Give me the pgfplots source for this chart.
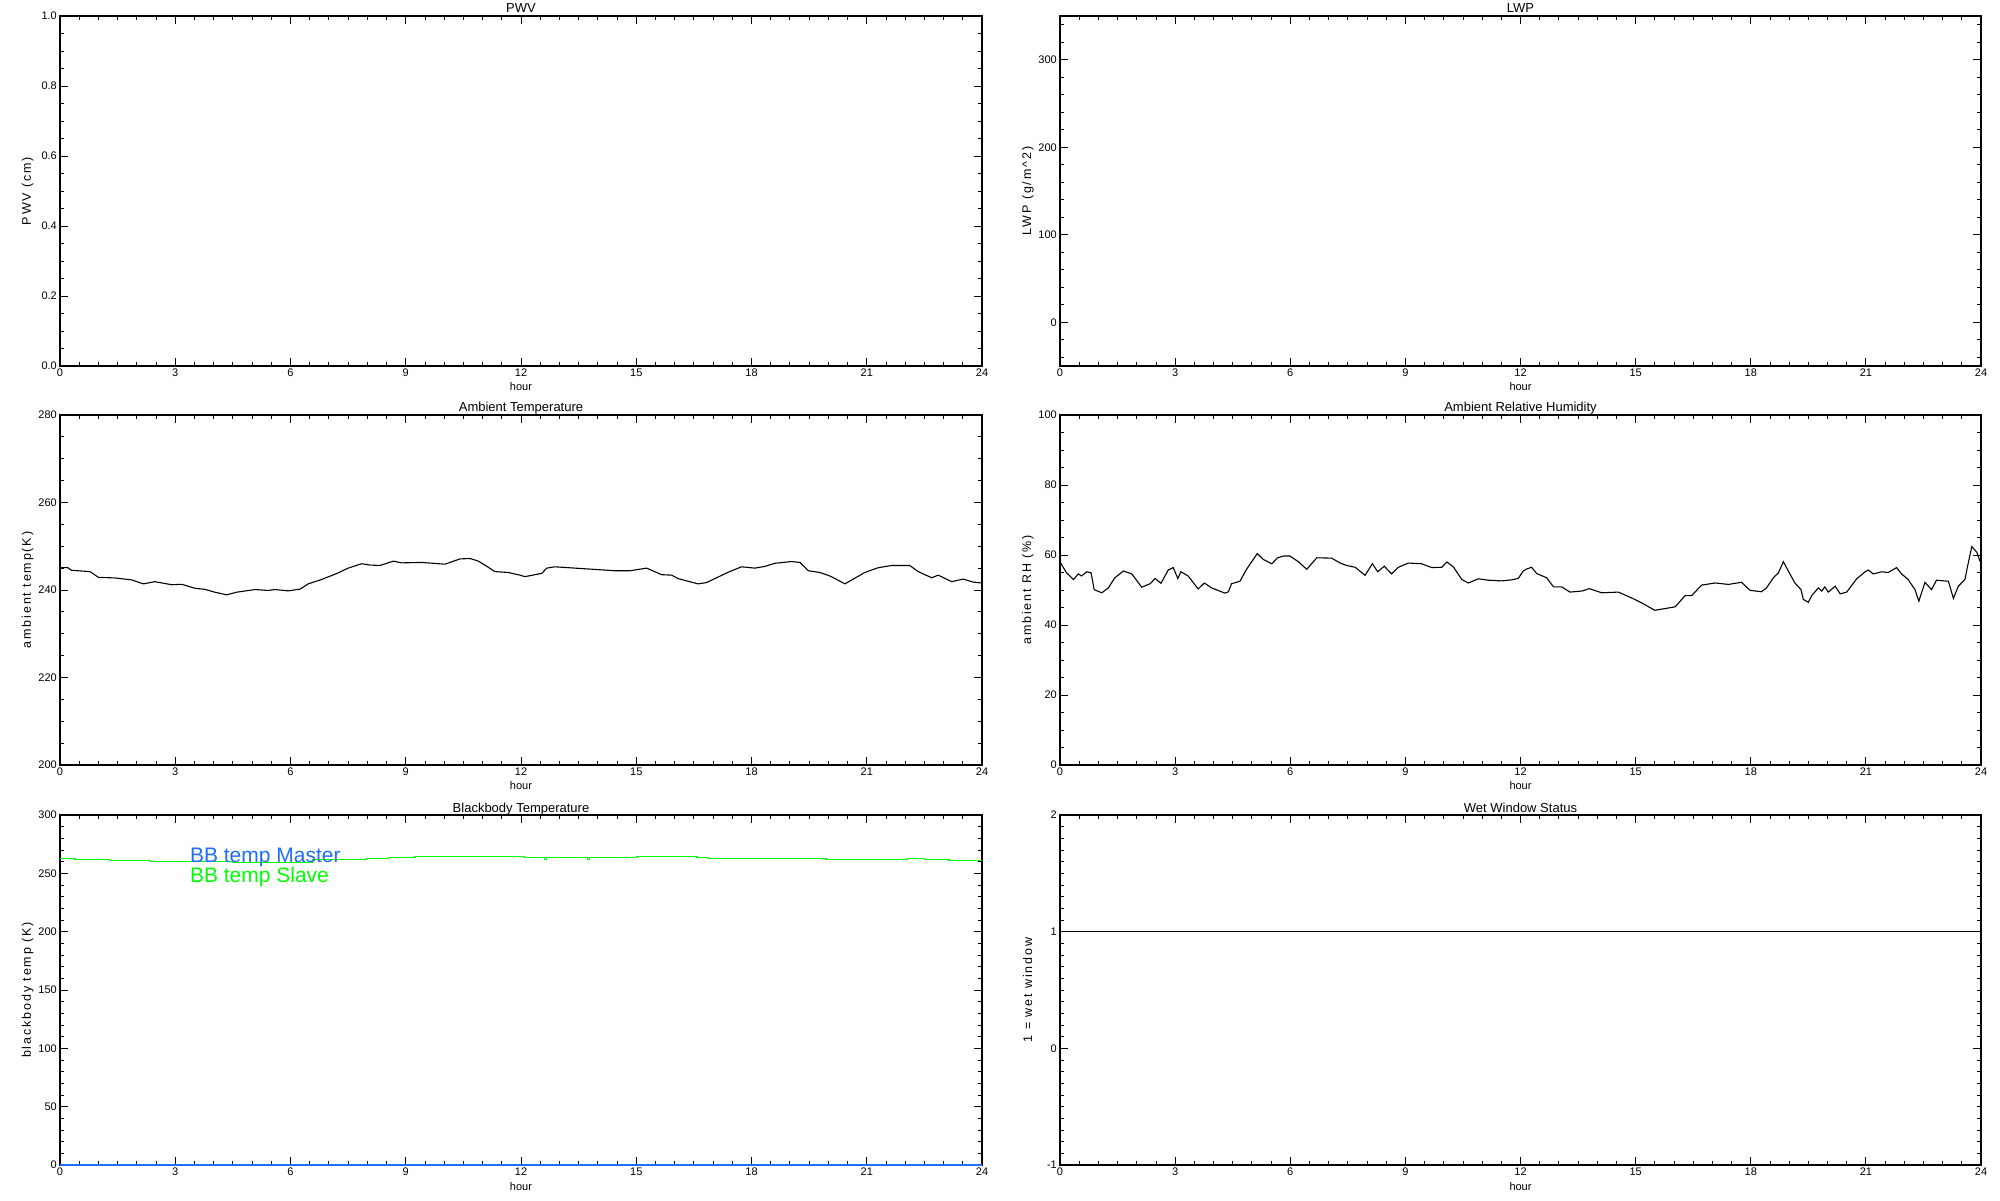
\documentclass[border=0pt]{standalone}
\usepackage{pgfplots}
\pgfplotsset{compat=1.18}
\usepackage{fontspec}
\setmainfont{Liberation Sans}
\newfontfamily\labfont[LetterSpace=15]{Liberation Sans}
\definecolor{masterblue}{RGB}{30,110,255}
\definecolor{slavegreen}{RGB}{0,255,0}

\pgfplotsset{
 every axis title shift/.style={},
 idl/.style={
  scale only axis, width=922pt, height=350pt, anchor=south west,
  clip mode=individual,
  xmin=0, xmax=24, xtick={0,3,...,24}, minor xtick={0,0.5,...,24},
  tick align=inside, xtick pos=both, ytick pos=both,
  major tick length=8pt, minor tick length=4pt,
  axis line style={line width=1.1pt},
  every tick/.style={black, line width=0.9pt},
  tick label style={font=\fontsize{11}{13}\selectfont},
  /pgf/number format/assume math mode=true,
  xticklabel style={anchor=north, inner sep=0pt, yshift=-3pt},
  yticklabel style={anchor=east, inner sep=0pt, xshift=-3pt},
  xlabel={hour},
  xlabel style={at={(axis description cs:0.5,0)}, anchor=base, yshift=-25pt, font=\fontsize{11}{13}\selectfont},
  ylabel style={at={(axis description cs:-0.035,0.5)}, anchor=center, font=\labfont\fontsize{12.5}{15}\selectfont},
  title style={at={(axis description cs:0.5,1)}, anchor=base, yshift=-3pt, font=\fontsize{13}{15}\selectfont},
  every axis plot/.append style={line width=1.1pt},
 }
}

\pgfplotstableread{
h T
0.00 245.1
0.20 245.1
0.30 244.5
0.78 244.2
1.00 242.9
1.43 242.75
1.87 242.3
2.17 241.4
2.47 241.9
2.91 241.2
3.17 241.3
3.51 240.4
3.77 240.15
4.03 239.5
4.34 238.9
4.60 239.5
5.08 240.1
5.42 239.9
5.60 240.1
5.94 239.8
6.25 240.2
6.46 241.4
6.81 242.4
7.24 243.9
7.50 245.0
7.85 246.0
8.07 245.7
8.33 245.6
8.68 246.6
8.89 246.2
9.41 246.3
10.02 245.9
10.41 247.1
10.67 247.2
10.89 246.6
11.15 245.2
11.32 244.2
11.67 244.0
11.97 243.4
12.10 243.05
12.54 243.8
12.67 245.0
12.88 245.3
13.58 244.9
14.45 244.4
14.84 244.4
15.27 245.0
15.66 243.5
15.92 243.4
16.09 242.6
16.61 241.4
16.83 241.7
17.39 244.05
17.74 245.3
18.09 245.0
18.35 245.4
18.61 246.1
19.04 246.5
19.26 246.3
19.48 244.4
19.78 244.0
20.04 243.2
20.22 242.4
20.43 241.4
20.69 242.7
20.95 244.0
21.30 245.1
21.65 245.6
22.12 245.6
22.34 244.2
22.69 242.8
22.86 243.4
23.21 241.9
23.51 242.5
23.77 241.8
24.00 241.6
}\temptable

\pgfplotstableread{
h RH
0.00 58.0
0.03 57.5
0.17 54.9
0.35 53.0
0.48 54.6
0.56 54.0
0.70 55.2
0.81 54.9
0.89 50.1
1.09 49.2
1.26 50.6
1.43 53.5
1.65 55.4
1.87 54.6
2.13 50.8
2.35 51.8
2.48 53.3
2.63 51.9
2.82 55.7
2.95 56.4
3.07 53.3
3.15 55.2
3.34 54.0
3.60 50.3
3.76 52.0
3.95 50.6
4.30 49.1
4.39 49.5
4.47 51.8
4.69 52.5
4.86 55.9
5.14 60.4
5.30 58.7
5.52 57.5
5.67 59.2
5.82 59.7
5.99 59.7
6.21 58.1
6.43 55.9
6.69 59.2
7.08 59.1
7.30 57.7
7.47 57.0
7.69 56.5
7.95 54.2
8.14 57.5
8.28 55.2
8.45 56.8
8.64 54.6
8.82 56.5
9.08 57.7
9.42 57.5
9.69 56.4
9.95 56.5
10.08 58.0
10.25 56.6
10.47 53.0
10.64 52.0
10.90 53.2
11.16 52.8
11.51 52.6
11.77 52.9
11.94 53.3
12.07 55.4
12.16 56.0
12.29 56.5
12.42 54.7
12.68 53.5
12.86 50.9
13.07 50.9
13.29 49.4
13.60 49.7
13.79 50.4
14.12 49.2
14.55 49.4
14.90 47.7
15.16 46.3
15.50 44.2
15.77 44.7
16.03 45.2
16.29 48.4
16.46 48.4
16.72 51.4
17.07 52.0
17.42 51.6
17.76 52.2
17.98 49.9
18.28 49.5
18.41 50.6
18.59 53.5
18.72 54.9
18.85 58.1
18.98 55.4
19.15 52.0
19.31 50.1
19.37 47.3
19.50 46.5
19.59 48.4
19.76 50.6
19.85 49.7
19.93 50.9
20.02 49.4
20.20 51.1
20.33 48.9
20.50 49.4
20.76 53.2
20.98 55.2
21.06 55.7
21.19 54.6
21.41 55.2
21.58 55.0
21.80 56.4
21.93 54.6
22.10 53.0
22.28 50.1
22.38 46.8
22.54 52.2
22.71 50.1
22.84 52.8
23.15 52.5
23.28 47.6
23.41 51.1
23.58 53.0
23.65 56.8
23.76 62.4
23.89 60.8
23.97 58.3
24.00 58.0
}\rhtable

\begin{document}
\begin{tikzpicture}
\useasboundingbox (0,0) rectangle (2000pt,1200pt);

% PWV
\begin{axis}[idl, at={(60pt,834pt)}, title={PWV}, ylabel={PWV (cm)},
  ymin=0, ymax=1, ytick={0,0.2,...,1.0}, minor ytick={0,0.05,...,1.0},
  yticklabel style={/pgf/number format/fixed, /pgf/number format/fixed zerofill, /pgf/number format/precision=1}]
\end{axis}

% LWP
\begin{axis}[idl, at={(1060pt,834pt)}, width=921pt, title={LWP}, ylabel={LWP (g/m\^{}2)},
  ymin=-50, ymax=350, ytick={0,100,200,300}, minor ytick={-40,-20,...,340}]
\end{axis}

% Ambient temperature
\begin{axis}[idl, at={(60pt,435pt)}, title={Ambient Temperature}, ylabel={ambient temp(K)},
  ymin=200, ymax=280, ytick={200,220,...,280}, minor ytick={200,205,...,280}]
\addplot[black] table[x=h, y=T] {\temptable};
\end{axis}

% Ambient RH
\begin{axis}[idl, at={(1060pt,435pt)}, width=921pt, title={Ambient Relative Humidity}, ylabel={ambient RH (\%)},
  ymin=0, ymax=100, ytick={0,20,...,100}, minor ytick={0,5,...,100}]
\addplot[black] table[x=h, y=RH] {\rhtable};
\end{axis}

% Blackbody temperature
\begin{axis}[idl, at={(60pt,35pt)}, title={Blackbody Temperature}, ylabel={blackbody temp (K)},
  ymin=0, ymax=300, ytick={0,50,...,300}, minor ytick={0,10,...,300}]
\addplot[masterblue, line width=1.5pt] coordinates {(0,0) (24,0)};
\addplot[slavegreen, const plot] coordinates {
 (0,262.8) (0.39,262.0) (1.29,261.1) (2.35,260.2) (4.48,259.4) (6.57,262.0)
 (7.97,262.8) (8.54,263.7) (9.24,264.5) (12.09,263.7) (12.60,261.8) (12.66,263.7)
 (13.72,261.8) (13.78,263.7) (15.0,264.5) (16.58,263.9) (16.89,262.8)
 (19.94,261.6) (21.42,262.2) (22.05,262.8) (22.51,262.2) (23.14,261.3) (24,261.3)};
\node[anchor=base west, text=masterblue, font=\fontsize{21}{24}\selectfont, inner sep=0pt] at (axis cs:3.38,259.5) {BB temp Master};
\node[anchor=base west, text=slavegreen, font=\fontsize{21}{24}\selectfont, inner sep=0pt] at (axis cs:3.38,242.5) {BB temp Slave};
\end{axis}

% Wet window
\begin{axis}[idl, at={(1060pt,35pt)}, width=921pt, title={Wet Window Status}, ylabel={1 = wet window},
  ymin=-1, ymax=2, ytick={-1,0,1,2}, minor ytick={-1,-0.9,...,2}]
\addplot[black] coordinates {(0,1) (24,1)};
\end{axis}
\end{tikzpicture}
\end{document}
